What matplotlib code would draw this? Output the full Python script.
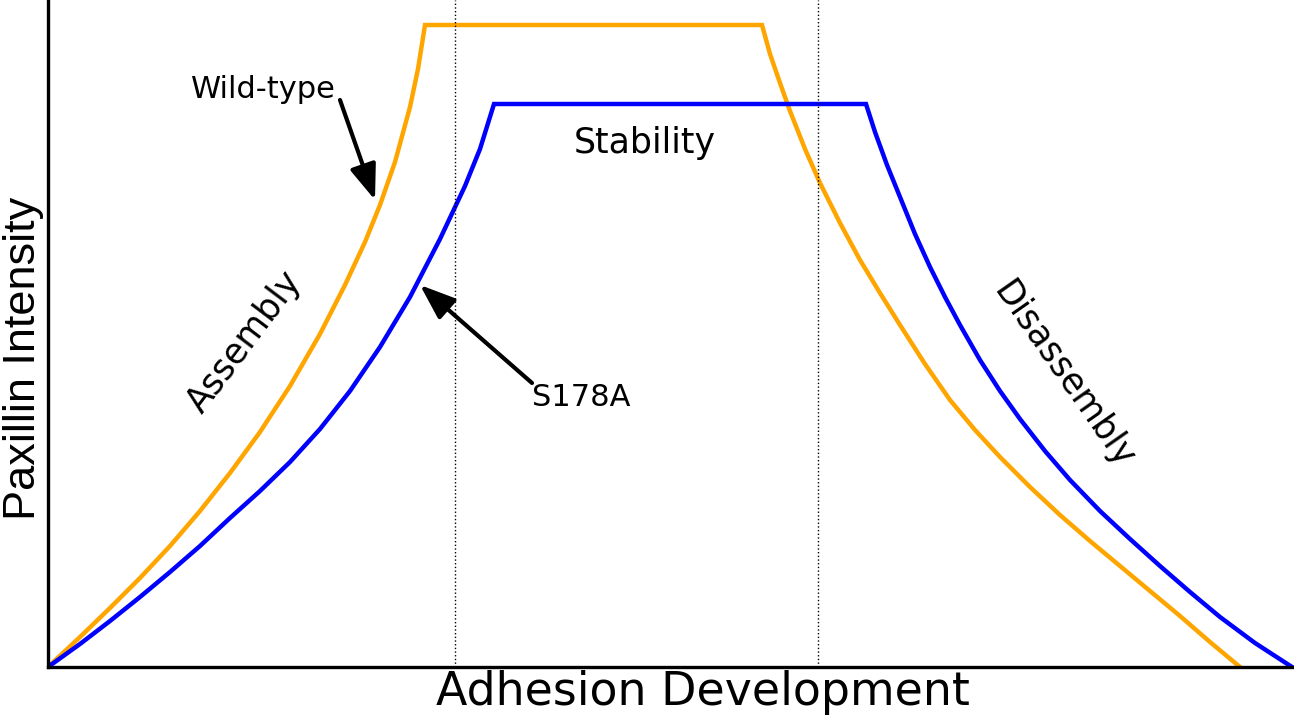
"""
粘着斑发展示意图：野生型 vs S178A 的 Paxillin 强度曲线
"""

import matplotlib
matplotlib.use('Agg')
import matplotlib.pyplot as plt

# ============================================================
# 数据（从原图读取的曲线点）
# ============================================================

wt_x = [0, 0.32, 0.62, 0.92, 1.22, 1.52, 1.82, 2.12, 2.42, 2.72, 2.97, 3.17,
        3.32, 3.47, 3.62, 3.70, 3.77,
        7.14, 7.22, 7.32, 7.42, 7.57, 7.72, 7.92, 8.12, 8.32, 8.52, 8.77,
        9.02, 9.27, 9.52, 9.82, 10.12, 10.42, 10.72, 11.02, 11.32, 11.62, 11.92]
wt_y = [0, 0.30, 0.59, 0.89, 1.21, 1.56, 1.94, 2.35, 2.81, 3.33, 3.82, 4.25,
        4.62, 5.05, 5.60, 5.98, 6.42,
        6.42, 6.13, 5.84, 5.56, 5.18, 4.84, 4.44, 4.07, 3.74, 3.42, 3.03,
        2.67, 2.37, 2.10, 1.80, 1.52, 1.26, 1.01, 0.76, 0.51, 0.25, 0]

mut_x = [0, 0.32, 0.62, 0.92, 1.22, 1.52, 1.82, 2.12, 2.42, 2.72, 3.02, 3.32,
         3.62, 3.92, 4.17, 4.32, 4.46,
         8.18, 8.27, 8.39, 8.52, 8.67, 8.82, 8.97, 9.12, 9.32, 9.52, 9.72,
         9.97, 10.22, 10.52, 10.82, 11.12, 11.42, 11.72, 12.07, 12.44]
mut_y = [0, 0.23, 0.46, 0.70, 0.95, 1.21, 1.49, 1.76, 2.05, 2.38, 2.76, 3.20,
         3.70, 4.28, 4.81, 5.18, 5.63,
         5.63, 5.35, 5.02, 4.70, 4.33, 4.00, 3.70, 3.42, 3.07, 2.76, 2.48,
         2.16, 1.87, 1.56, 1.28, 1.01, 0.75, 0.50, 0.24, 0]

phase_bounds = [4.07, 7.70]   # 阶段分界（虚线）

# ============================================================
# 绘图
# ============================================================

fig = plt.figure(figsize=(12.94, 7.17), dpi=100)
ax = fig.add_axes([48 / 1294, 50 / 717, 1246 / 1294, 667 / 717])

ax.plot(wt_x, wt_y, color='#FFA500', linewidth=3.2, solid_joinstyle='miter')
ax.plot(mut_x, mut_y, color='#0000FF', linewidth=3.2, solid_joinstyle='miter')

for xb in phase_bounds:
    ax.axvline(xb, color='black', linestyle=':', linewidth=1.0)

ax.set_xlim(0, 12.46)
ax.set_ylim(0, 6.67)
ax.set_xticks([])
ax.set_yticks([])
for side in ['top', 'right']:
    ax.spines[side].set_visible(False)
for side in ['left', 'bottom']:
    ax.spines[side].set_linewidth(2.4)

ax.set_xlabel('Adhesion Development', fontsize=33, family='DejaVu Sans')
ax.set_ylabel('Paxillin Intensity', fontsize=32.5, family='Liberation Sans')
ax.xaxis.set_label_coords(0.526, -0.004)
ax.yaxis.set_label_coords(-0.003, 0.463)

# 阶段标注
ax.text(5.97, 5.24, 'Stability', fontsize=25, ha='center', va='center')
ax.text(1.97, 3.25, 'Assembly', fontsize=25, ha='center', va='center', rotation=53)
ax.text(10.15, 2.92, 'Disassembly', fontsize=25, ha='center', va='center', rotation=-55)

# 箭头标注
arrow_kw = dict(arrowstyle='-|>,head_length=0.72,head_width=0.27', color='black',
                lw=3, shrinkA=0, shrinkB=0, mutation_scale=30)
ax.text(2.15, 5.77, 'Wild-type', fontsize=22, ha='center', va='center')
ax.annotate('', xy=(3.27, 4.67), xytext=(2.92, 5.67), arrowprops=arrow_kw)
ax.text(5.33, 2.69, 'S178A', fontsize=22, ha='center', va='center')
ax.annotate('', xy=(3.72, 3.82), xytext=(4.84, 2.84), arrowprops=arrow_kw)

plt.savefig('out.png', dpi=100)
